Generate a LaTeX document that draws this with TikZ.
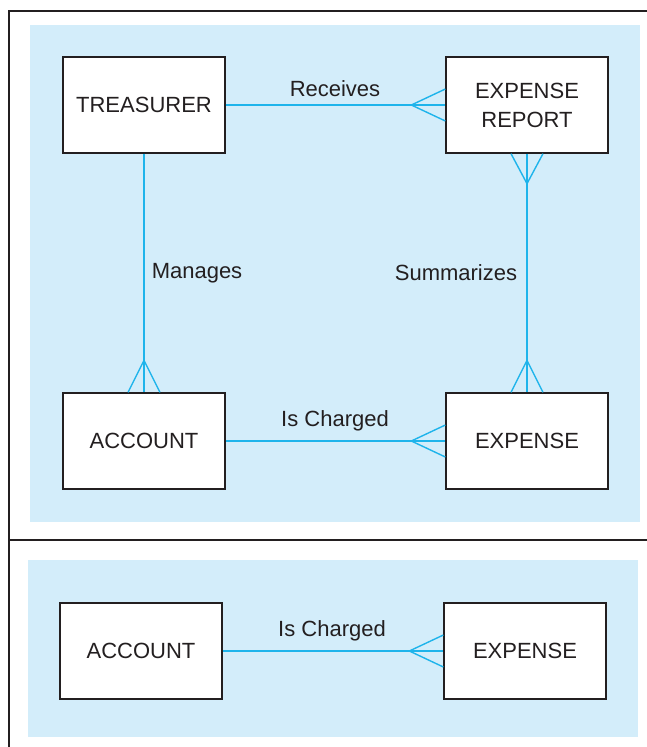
\documentclass[tikz,border=0pt]{standalone}
\usepackage{fontspec}
\setmainfont{Liberation Sans}
\usetikzlibrary{calc}
\usetikzlibrary{positioning}
\definecolor{erline}{RGB}{30,180,235}
\definecolor{erpanel}{RGB}{211,237,250}
\definecolor{erink}{RGB}{35,31,32}
\tikzstyle{entnode} = [draw=erink, line width=1.3pt, fill=white, rectangle, minimum width=162pt, minimum height=96pt, align=center, text=erink]
\tikzstyle{relline} = [draw=erline, line width=1.4pt]
\tikzstyle{rellabel} = [text=erink, inner sep=0pt]
\tikzstyle{panel} = [fill=erpanel]

\begin{document}
\begin{tikzpicture}[x=1pt, y=-1pt, font=\fontsize{22}{29}\selectfont]
  \useasboundingbox (0,0) rectangle (647,747);
  \fill[panel] (30,25) rectangle (640,522);
  \fill[panel] (28,560) rectangle (638,737);
  \draw[erink, line width=2pt] (647,11) -- (9,11) -- (9,747);
  \draw[erink, line width=1.3pt] (9,540) -- (647,540);

  % upper model
  \node[entnode] (tr) at (144,105) {TREASURER};
  \node[entnode] (er) at (527,105) {EXPENSE\\REPORT};
  \node[entnode] (ac) at (144,441) {ACCOUNT};
  \node[entnode] (ex) at (527,441) {EXPENSE};

  \draw[relline] (tr) -- (er);
  \draw[relline] (tr) -- (ac);
  \draw[relline] (er) -- (ex);
  \draw[relline] (ac) -- (ex);

  \coordinate (er_w) at ($(er.west)+(-34,0)$);
  \coordinate (er_s) at ($(er.south)+(0,30)$);
  \coordinate (ex_n) at ($(ex.north)+(0,-32)$);
  \coordinate (ex_w) at ($(ex.west)+(-34,0)$);
  \coordinate (ac_n) at ($(ac.north)+(0,-32)$);
  \foreach \s in {-16,16} {
    \draw[relline] (er_w) -- ($(er.west)+(0,\s)$);
    \draw[relline] (er_s) -- ($(er.south)+(\s,0)$);
    \draw[relline] (ex_n) -- ($(ex.north)+(\s,0)$);
    \draw[relline] (ex_w) -- ($(ex.west)+(0,\s)$);
    \draw[relline] (ac_n) -- ($(ac.north)+(\s,0)$);
  }

  \node[rellabel] (rcv) at (335,89) {Receives};
  \node[rellabel] (mng) at (197,273) {Manages};
  \node[rellabel] (sum) at (456,273) {Summarizes};
  \node[rellabel] (chg) at (335,421) {Is Charged};

  % lower model
  \node[entnode] (ac2) at (141,651) {ACCOUNT};
  \node[entnode] (ex2) at (525,651) {EXPENSE};
  \draw[relline] (ac2) -- (ex2);
  \coordinate (ex2_w) at ($(ex2.west)+(-34,0)$);
  \foreach \s in {-16,16}
    \draw[relline] (ex2_w) -- ($(ex2.west)+(0,\s)$);
  \node[rellabel] (chg2) at (332,631) {Is Charged};
\end{tikzpicture}
\end{document}
